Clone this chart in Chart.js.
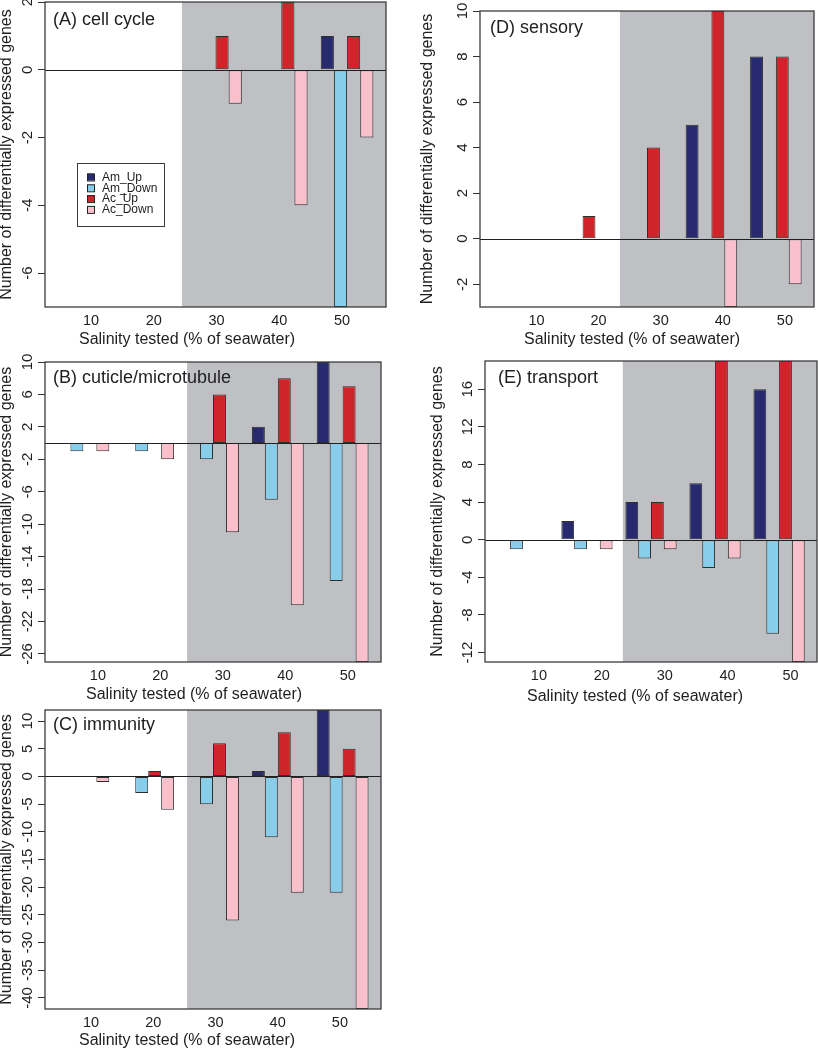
<!DOCTYPE html>
<html>
<head>
<meta charset="utf-8">
<title>Differentially expressed genes by salinity</title>
<script src="https://cdn.jsdelivr.net/npm/chart.js@4.4.1/dist/chart.umd.min.js"></script>
<style>
  html, body { margin: 0; padding: 0; background: #fff; }
  #wrap { position: relative; width: 818px; height: 1050px; overflow: hidden; }
</style>
</head>
<body>
<div id="wrap"></div>
<script>
// categories / series
const salinity = ['10', '20', '30', '40', '50'];
const seriesNames = ['Am_Up', 'Am_Down', 'Ac_Up', 'Ac_Down'];
const seriesColors = ['#282a70', '#88cdea', '#cf2429', '#f9c0cb'];

// (A) cell cycle
const cellCycleAmUp   = [0, 0, 0, 0, 1];
const cellCycleAmDown = [0, 0, 0, 0, -7];
const cellCycleAcUp   = [0, 0, 1, 2, 1];
const cellCycleAcDown = [0, 0, -1, -4, -2];
const yTicksCellCycle = [-6, -4, -2, 0, 2];

// (B) cuticle/microtubule
const cuticleAmUp   = [0, 0, 0, 2, 10];
const cuticleAmDown = [-1, -1, -2, -7, -17];
const cuticleAcUp   = [0, 0, 6, 8, 7];
const cuticleAcDown = [-1, -2, -11, -20, -27];
const yTicksCuticle = [-26, -22, -18, -14, -10, -6, -2, 2, 6, 10];

// (C) immunity
const immunityAmUp   = [0, 0, 0, 1, 12];
const immunityAmDown = [0, -3, -5, -11, -21];
const immunityAcUp   = [0, 1, 6, 8, 5];
const immunityAcDown = [-1, -6, -26, -21, -42];
const yTicksImmunity = [-40, -35, -30, -25, -20, -15, -10, -5, 0, 5, 10];

// (D) sensory
const sensoryAmUp   = [0, 0, 0, 5, 8];
const sensoryAmDown = [0, 0, 0, 0, 0];
const sensoryAcUp   = [0, 1, 4, 10, 8];
const sensoryAcDown = [0, 0, 0, -3, -2];
const yTicksSensory = [-2, 0, 2, 4, 6, 8, 10];

// (E) transport
const transportAmUp   = [0, 2, 4, 6, 16];
const transportAmDown = [-1, -1, -2, -3, -10];
const transportAcUp   = [0, 0, 4, 19, 19];
const transportAcDown = [0, -1, -1, -2, -13];
const yTicksTransport = [-12, -8, -4, 0, 4, 8, 12, 16];

const xTitle = 'Salinity tested (% of seawater)';
const yTitle = 'Number of differentially expressed genes';

const FONT = "'Liberation Sans', Arial, Helvetica, sans-serif";
const TEXT = '#1e1e1e';
const SHADE = '#bfc0c4';
Chart.defaults.font.family = FONT;
Chart.defaults.color = TEXT;

// layout of each panel (page pixels); x positions in barplot units (R style: 4 bars + 1 gap per group)
const panels = [
  { title: '(A) cell cycle', series: [cellCycleAmUp, cellCycleAmDown, cellCycleAcUp, cellCycleAcDown],
    yMin: -7, yMax: 2, yTicks: yTicksCellCycle, canvas: [0, 0, 410, 350], box: [45, 2, 386, 307],
    shadeFrom: 10.45, tickStart: 3.54, tickStep: 4.77, titleAt: [8, 18], xTitleAt: [187, 33], yTitleX: 7,
    legend: [77, 163, 87, 63] },
  { title: '(B) cuticle/microtubule', series: [cuticleAmUp, cuticleAmDown, cuticleAcUp, cuticleAcDown],
    yMin: -27, yMax: 10, yTicks: yTicksCuticle, canvas: [0, 350, 410, 355], box: [45, 362, 381, 662],
    shadeFrom: 11, tickStart: 4.12, tickStep: 4.82, titleAt: [8, 16], xTitleAt: [194, 33], yTitleX: 7 },
  { title: '(C) immunity', series: [immunityAmUp, immunityAmDown, immunityAcUp, immunityAcDown],
    yMin: -42, yMax: 12, yTicks: yTicksImmunity, canvas: [0, 705, 410, 345], box: [45, 710, 381, 1009],
    shadeFrom: 11, tickStart: 3.59, tickStep: 4.8, titleAt: [8, 15], xTitleAt: [187, 32], yTitleX: 7 },
  { title: '(D) sensory', series: [sensoryAmUp, sensoryAmDown, sensoryAcUp, sensoryAcDown],
    yMin: -3, yMax: 10, yTicks: yTicksSensory, canvas: [410, 0, 408, 350], box: [480, 11, 814, 307],
    shadeFrom: 10.9, tickStart: 4.42, tickStep: 4.82, titleAt: [10, 17], xTitleAt: [632, 33], yTitleX: 428 },
  { title: '(E) transport', series: [transportAmUp, transportAmDown, transportAcUp, transportAcDown],
    yMin: -13, yMax: 19, yTicks: yTicksTransport, canvas: [410, 350, 408, 355], box: [485, 361, 817, 662],
    shadeFrom: 10.8, tickStart: 4.25, tickStep: 4.91, titleAt: [13, 17], xTitleAt: [635, 35], yTitleX: 438 }
];

const X_MIN = 0.04, X_MAX = 25.96;
const groupCenter = i => 5 * i + 3;

function makeDatasets(series) {
  return series.map((vals, k) => ({
    label: seriesNames[k],
    data: vals.map((v, i) => ({ x: groupCenter(i), y: v })),
    backgroundColor: seriesColors[k],
    borderColor: '#2e2e2e',
    borderWidth: 1,
    borderSkipped: false,
    categoryPercentage: 0.8,
    barPercentage: 1,
    clip: 0
  }));
}

function makeDecor(p) {
  const [cx, cy] = p.canvas;
  return {
    id: 'decor',
    beforeDatasetsDraw(chart) {
      const { ctx, chartArea: a, scales } = chart;
      const xs = scales.x.getPixelForValue(p.shadeFrom);
      ctx.save();
      ctx.fillStyle = SHADE;
      ctx.fillRect(xs, a.top, a.right - xs, a.bottom - a.top);
      ctx.restore();
    },
    afterDatasetsDraw(chart) {
      const { ctx, chartArea: a, scales: { y } } = chart;
      ctx.save();

      // zero line
      const y0 = Math.round(y.getPixelForValue(0)) + 0.5;
      ctx.strokeStyle = '#202020';
      ctx.lineWidth = 1;
      ctx.beginPath();
      ctx.moveTo(a.left, y0);
      ctx.lineTo(a.right, y0);
      ctx.stroke();

      // plot frame
      ctx.strokeStyle = '#3c3c3c';
      ctx.lineWidth = 1.3;
      ctx.strokeRect(a.left, a.top, a.right - a.left, a.bottom - a.top);

      // y tick labels, parallel to the axis
      ctx.fillStyle = TEXT;
      ctx.font = '15px ' + FONT;
      ctx.textAlign = 'center';
      ctx.textBaseline = 'middle';
      y.ticks.forEach(t => {
        ctx.save();
        ctx.translate(a.left - 17, y.getPixelForValue(t.value));
        ctx.rotate(-Math.PI / 2);
        ctx.fillText(String(t.value), 0, 0);
        ctx.restore();
      });

      // panel title
      ctx.font = '18px ' + FONT;
      ctx.textAlign = 'left';
      ctx.fillText(p.title, a.left + p.titleAt[0], a.top + p.titleAt[1]);

      // axis titles
      ctx.font = '16px ' + FONT;
      ctx.textAlign = 'center';
      ctx.fillText(xTitle, p.xTitleAt[0] - cx, a.bottom + p.xTitleAt[1]);
      ctx.save();
      ctx.translate(p.yTitleX - cx, (a.top + a.bottom) / 2);
      ctx.rotate(-Math.PI / 2);
      ctx.fillText(yTitle, 0, 0);
      ctx.restore();

      // legend
      if (p.legend) {
        const [lx, ly, lw, lh] = p.legend;
        const left = lx - cx, top = ly - cy;
        ctx.fillStyle = '#fff';
        ctx.fillRect(left, top, lw, lh);
        ctx.strokeStyle = '#3c3c3c';
        ctx.lineWidth = 1;
        ctx.strokeRect(left + 0.5, top + 0.5, lw, lh);
        ctx.font = '12px ' + FONT;
        ctx.textAlign = 'left';
        chart.data.datasets.forEach((ds, k) => {
          const ry = top + 14 + k * 10.8;
          ctx.fillStyle = ds.backgroundColor;
          ctx.fillRect(left + 10, ry - 3.5, 7, 7);
          ctx.strokeStyle = '#222';
          ctx.strokeRect(left + 10.5, ry - 3, 7, 7);
          ctx.fillStyle = TEXT;
          ctx.fillText(ds.label, left + 25, ry + 0.5);
        });
      }
      ctx.restore();
    }
  };
}

const wrap = document.getElementById('wrap');

panels.forEach(p => {
  const [cx, cy, cw, ch] = p.canvas;
  const [bl, bt, br, bb] = p.box;
  const canvas = document.createElement('canvas');
  canvas.width = cw;
  canvas.height = ch;
  canvas.style.cssText = `position:absolute;left:${cx}px;top:${cy}px;width:${cw}px;height:${ch}px;`;
  wrap.appendChild(canvas);

  new Chart(canvas, {
    type: 'bar',
    data: { datasets: makeDatasets(p.series) },
    options: {
      responsive: false,
      maintainAspectRatio: false,
      animation: false,
      layout: { padding: { top: bt - cy, right: cx + cw - br, left: 0, bottom: 0 } },
      plugins: { legend: { display: false }, tooltip: { enabled: false } },
      scales: {
        x: {
          type: 'linear',
          display: false,
          offset: false,
          bounds: 'data',
          min: X_MIN,
          max: X_MAX,
          grid: { offset: false },
          afterBuildTicks: s => { s.ticks = salinity.map((_, i) => ({ value: groupCenter(i) })); }
        },
        x2: {
          type: 'linear',
          position: 'bottom',
          offset: false,
          bounds: 'data',
          min: X_MIN,
          max: X_MAX,
          afterBuildTicks: s => { s.ticks = salinity.map((_, i) => ({ value: p.tickStart + i * p.tickStep })); },
          afterFit: s => { s.height = cy + ch - bb; },
          ticks: {
            callback: (v, i) => salinity[i],
            autoSkip: false,
            maxRotation: 0,
            padding: 5.5,
            color: TEXT,
            font: { size: 14.5 }
          },
          grid: { display: false, drawTicks: false, offset: false },
          border: { display: false }
        },
        y: {
          type: 'linear',
          bounds: 'data',
          min: p.yMin,
          max: p.yMax,
          afterBuildTicks: s => { s.ticks = p.yTicks.map(v => ({ value: v })); },
          afterFit: s => { s.width = bl - cx; },
          ticks: { display: false },
          grid: { drawOnChartArea: false, drawTicks: true, tickLength: 7, color: '#333', lineWidth: 1 },
          border: { display: false }
        }
      }
    },
    plugins: [makeDecor(p)]
  });
});
</script>
</body>
</html>
